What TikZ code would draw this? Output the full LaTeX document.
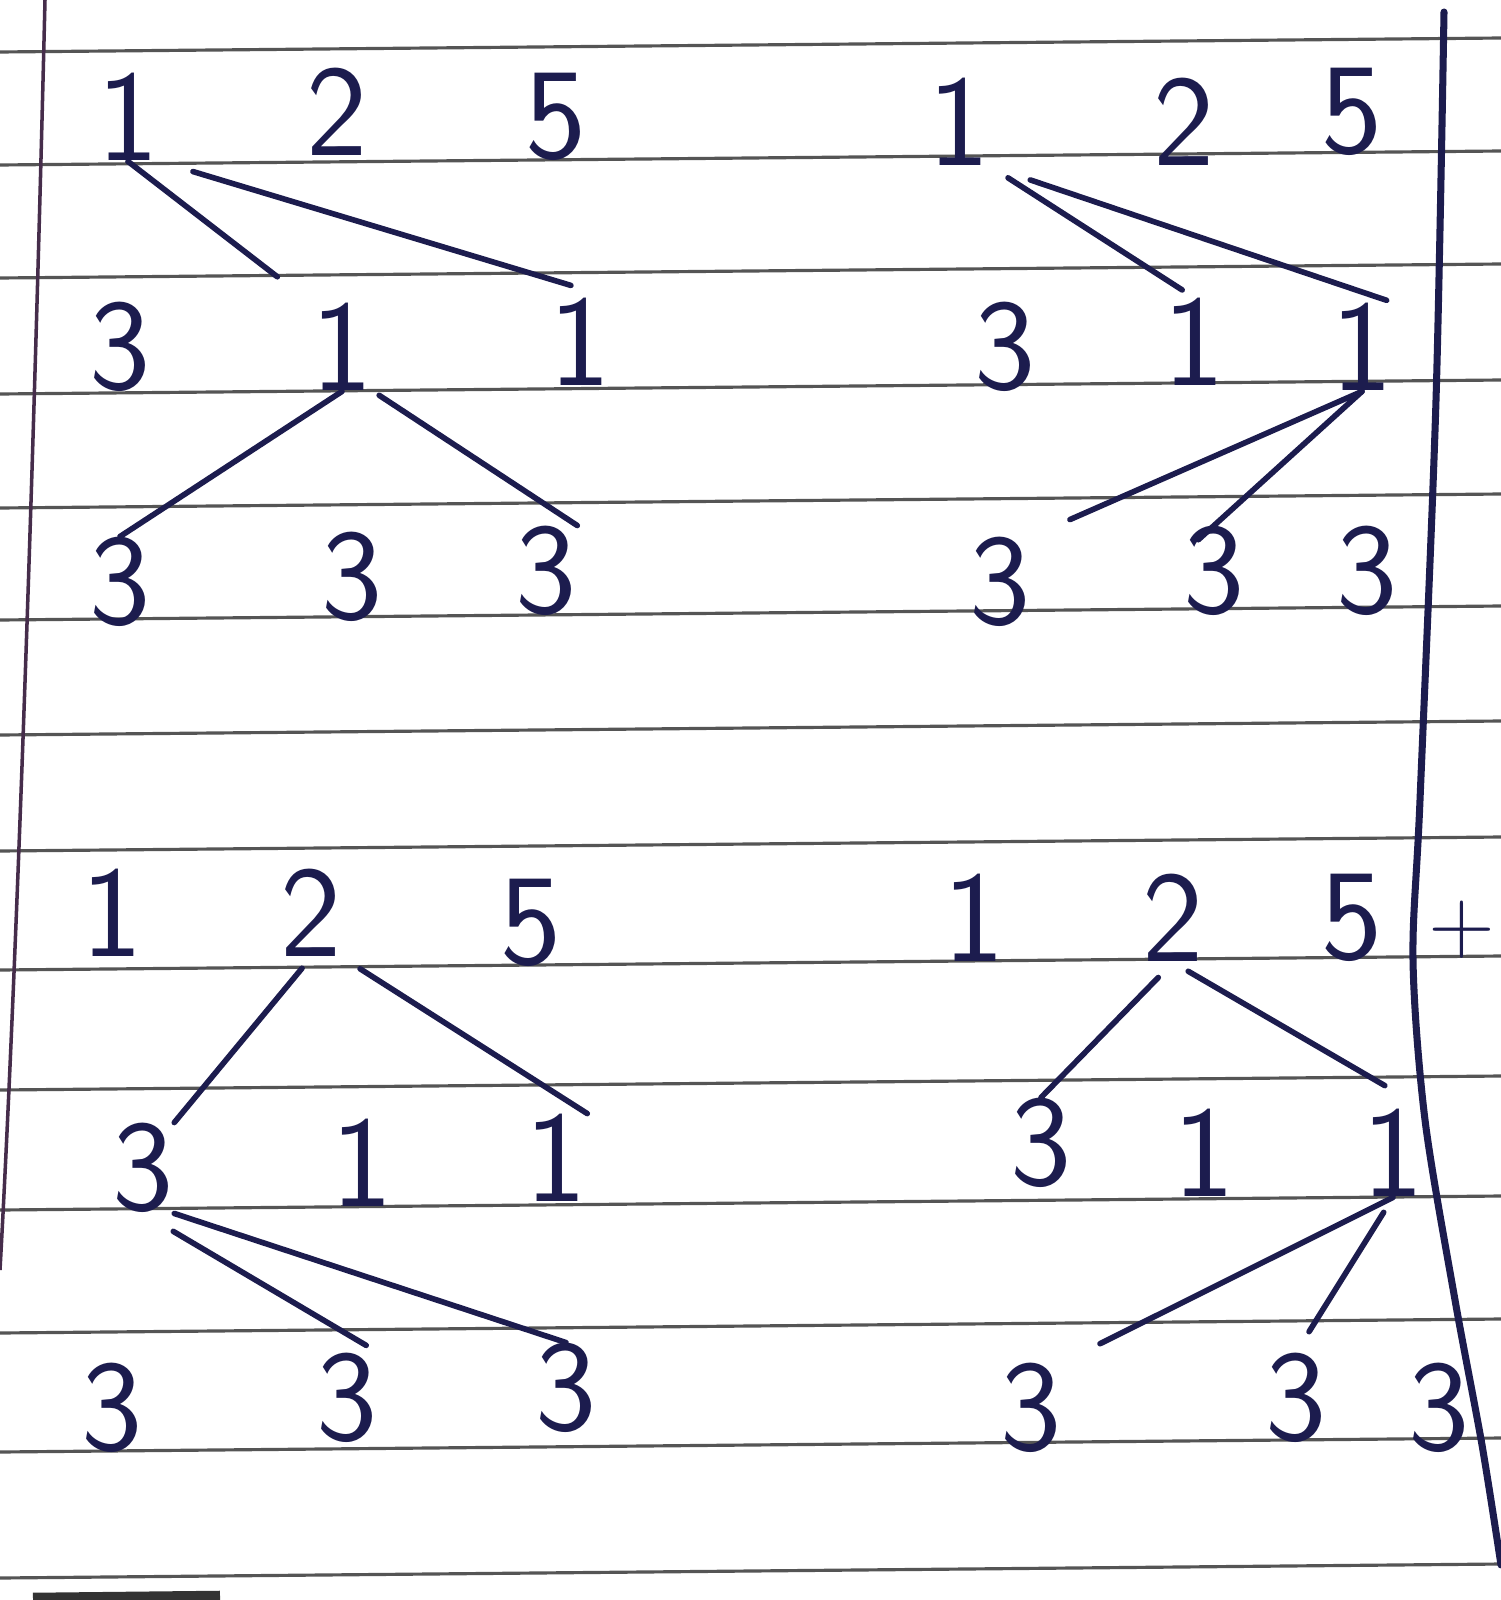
\documentclass[tikz,border=0pt]{standalone}
\definecolor{ink}{RGB}{28,28,78}
\definecolor{rulegray}{RGB}{85,85,85}
\definecolor{marginline}{RGB}{70,45,75}
\tikzset{
  digit/.style={inner sep=0pt, text=ink, font=\sffamily\fontsize{37}{37}\selectfont},
  pen/.style={draw=ink, line width=1.6pt, line cap=round},
  ruling/.style={draw=rulegray, line width=0.9pt},
}
\begin{document}
\begin{tikzpicture}[x=0.01cm,y=-0.01cm]
    \useasboundingbox (0,0) rectangle (1501,1600);
    \fill[white] (0,0) rectangle (1501,1600);

    \foreach \y in {52,165,278,394,508,620,735,851,970,1090,1210,1333,1452,1578}
        \draw[ruling] (0,\y) -- (1501,{\y-14});
    \draw[marginline, line width=1pt] (45,0) .. controls (33,500) and (15,1000) .. (0,1270);
    \draw[black!80, line width=3pt] (33,1598) -- (220,1596);
    \draw[pen, line width=2pt] plot[smooth] coordinates {(1444,12) (1436,400) (1420,800) (1413,960) (1425,1120) (1455,1300) (1482,1445) (1501,1565)};

    % top left
    \node[digit] (at1) at (128,117) {1};
    \node[digit] (at2) at (337,112) {2};
    \node[digit] (at3) at (556,117) {5};
    \node[digit] (am1) at (120,347) {3};
    \node[digit] (am2) at (342,347) {1};
    \node[digit] (am3) at (580,342) {1};
    \node[digit] (ab1) at (120,582) {3};
    \node[digit] (ab2) at (352,577) {3};
    \node[digit] (ab3) at (546,571) {3};
    \draw[pen, shorten >=12pt] (at1.south) -- (am2.north west);
    \draw[pen, shorten <=10pt, shorten >=12pt] (at1.south east) -- (am3.north east);
    \draw[pen] (am2.south) -- (ab1.north);
    \draw[pen, shorten <=2pt] (am2.south east) -- (ab3.north east);

    % top right
    \node[digit] (bt1) at (959,122) {1};
    \node[digit] (bt2) at (1184,122) {2};
    \node[digit] (bt3) at (1352,112) {5};
    \node[digit] (bm1) at (1005,347) {3};
    \node[digit] (bm2) at (1194,342) {1};
    \node[digit] (bm3) at (1362,347) {1};
    \node[digit] (bb1) at (1000,582) {3};
    \node[digit] (bb2) at (1214,571) {3};
    \node[digit] (bb3) at (1367,571) {3};
    \draw[pen, shorten <=6pt, shorten >=4pt] (bt1.south east) -- (bm2.north);
    \draw[pen, shorten <=12pt, shorten >=2pt] (bt1.south east) -- (bm3.north east);
    \draw[pen, shorten >=12pt] (bm3.south) -- (bb1.north east);
    \draw[pen, shorten >=-6pt] (bm3.south) -- (bb2.north);

    % bottom left
    \node[digit] (ct1) at (112,913) {1};
    \node[digit] (ct2) at (311,913) {2};
    \node[digit] (ct3) at (531,923) {5};
    \node[digit] (cm1) at (143,1168) {3};
    \node[digit] (cm2) at (362,1163) {1};
    \node[digit] (cm3) at (556,1158) {1};
    \node[digit] (cb1) at (112,1408) {3};
    \node[digit] (cb2) at (347,1398) {3};
    \node[digit] (cb3) at (566,1388) {3};
    \draw[pen, shorten <=4pt] (ct2.south) -- (cm1.north east);
    \draw[pen, shorten <=6pt] (ct2.south east) -- (cm3.north east);
    \draw[pen] (cm1.south east) -- (cb3.north);
    \draw[pen, shorten <=10pt, shorten >=4pt] (cm1.south) -- (cb2.north east);

    % bottom right
    \node[digit] (dt1) at (974,918) {1};
    \node[digit] (dt2) at (1173,918) {2};
    \node[digit] (dt3) at (1352,918) {5};
    \node[digit] (dm1) at (1041,1143) {3};
    \node[digit] (dm2) at (1204,1153) {1};
    \node[digit] (dm3) at (1393,1153) {1};
    \node[digit] (db1) at (1031,1408) {3};
    \node[digit] (db2) at (1296,1398) {3};
    \node[digit] (db3) at (1439,1408) {3};
    \draw[pen, shorten <=6pt] (dt2.south) -- (dm1.north);
    \draw[pen, shorten <=5pt, shorten >=13pt] (dt2.south) -- (dm3.north east);
    \draw[pen, shorten >=12pt] (dm3.south) -- (db1.north east);
    \draw[pen, shorten <=5pt, shorten >=7pt] (dm3.south) -- (db2.north);

    \node[digit, font=\sffamily\fontsize{26}{26}\selectfont] (plus) at (1462,930) {+};
\end{tikzpicture}
\end{document}
